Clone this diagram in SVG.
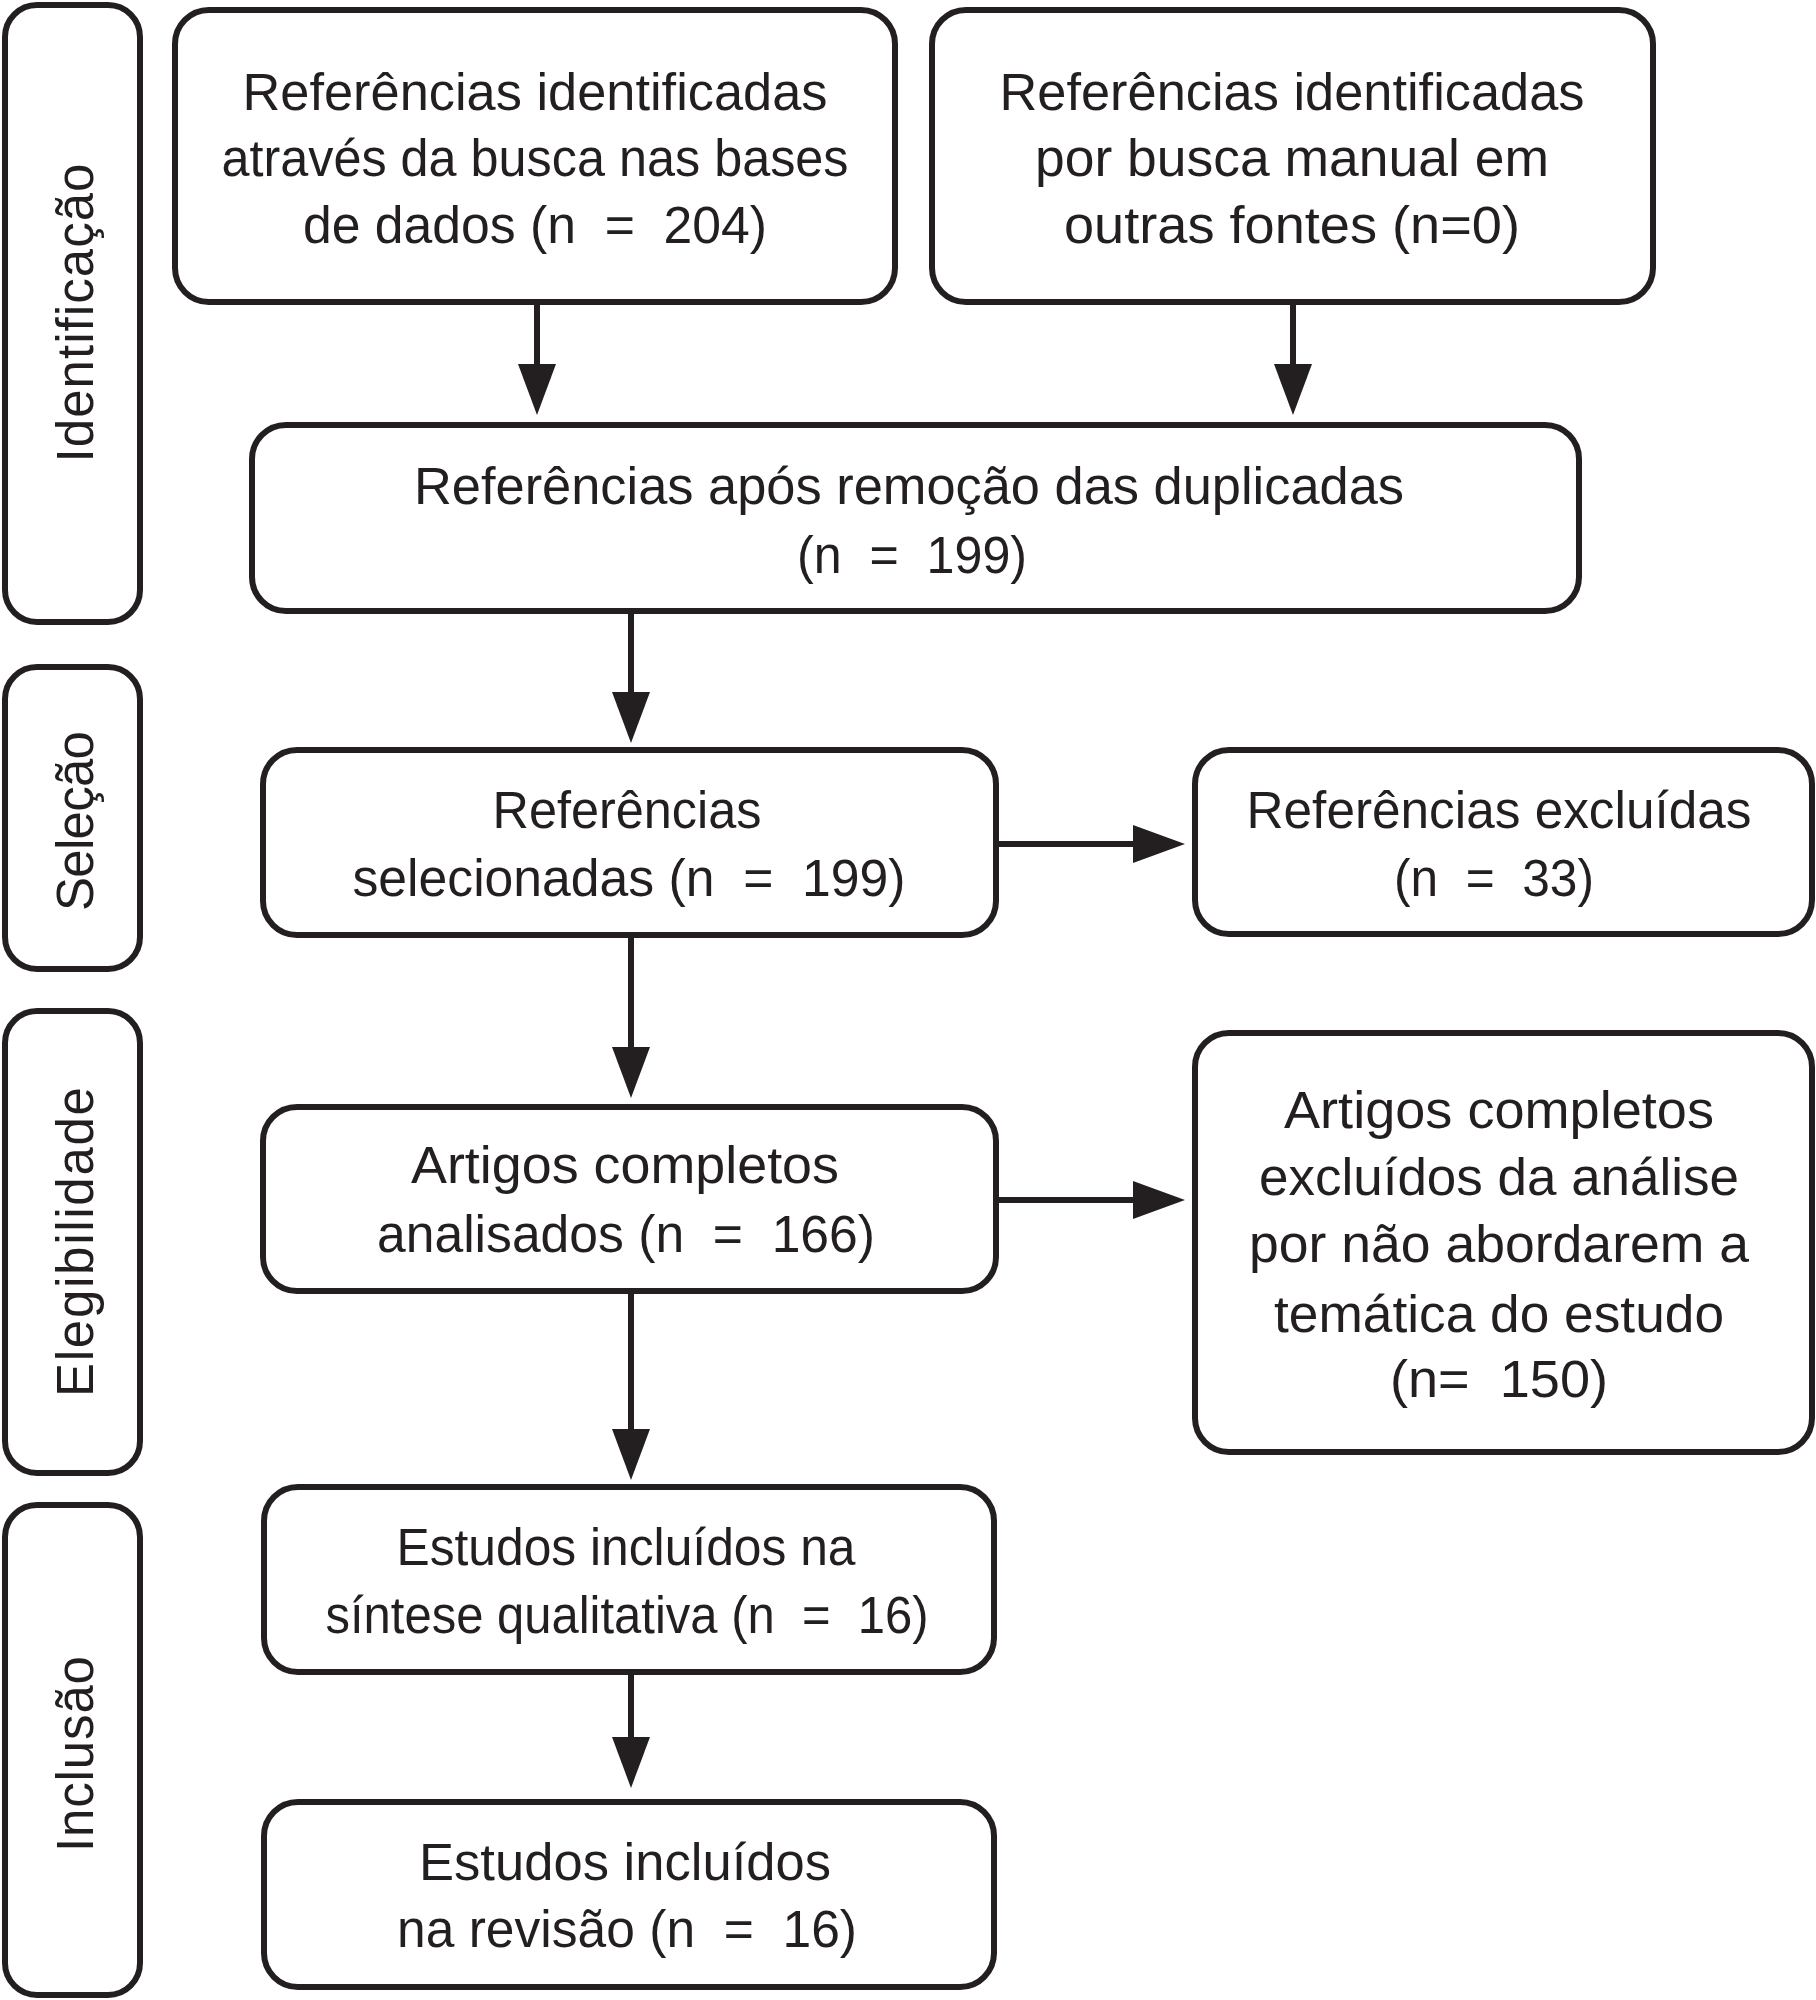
<svg xmlns="http://www.w3.org/2000/svg" width="1816" height="2000" viewBox="0 0 1816 2000" xml:space="preserve">
<style>
.box{fill:#fff;stroke:#231f20;stroke-width:6}
.t{font-family:"Liberation Sans",Arial,sans-serif;font-size:51px;fill:#231f20;text-anchor:middle;white-space:pre}
.side{font-family:"Liberation Sans",Arial,sans-serif;font-size:51px;fill:#231f20;text-anchor:middle}
.ln{stroke:#231f20;stroke-width:6;fill:none}
.ah{fill:#231f20}
</style>
<rect width="1816" height="2000" fill="#fff"/>
<g id="stage-identificacao">
<rect class="box" x="5" y="5" width="135" height="617" rx="32"/>
<text class="side" transform="translate(93,313) rotate(-90)" textLength="299" lengthAdjust="spacing">Identificação</text>
</g>
<g id="stage-selecao">
<rect class="box" x="5" y="667" width="135" height="302" rx="32"/>
<text class="side" transform="translate(93,821) rotate(-90)" textLength="180" lengthAdjust="spacing">Seleção</text>
</g>
<g id="stage-elegibilidade">
<rect class="box" x="5" y="1011" width="135" height="462" rx="32"/>
<text class="side" transform="translate(93,1242) rotate(-90)" textLength="310" lengthAdjust="spacing">Elegibilidade</text>
</g>
<g id="stage-inclusao">
<rect class="box" x="5" y="1505" width="135" height="490" rx="32"/>
<text class="side" transform="translate(93,1754) rotate(-90)" textLength="196" lengthAdjust="spacing">Inclusão</text>
</g>
<g id="connectors">
<line class="ln" x1="537" y1="302" x2="537" y2="370"/><polygon class="ah" points="518,364 556,364 537,415"/>
<line class="ln" x1="1293" y1="302" x2="1293" y2="370"/><polygon class="ah" points="1274,364 1312,364 1293,415"/>
<line class="ln" x1="631" y1="611" x2="631" y2="698"/><polygon class="ah" points="612,692 650,692 631,743"/>
<line class="ln" x1="631" y1="935" x2="631" y2="1053"/><polygon class="ah" points="612,1047 650,1047 631,1098"/>
<line class="ln" x1="631" y1="1291" x2="631" y2="1435"/><polygon class="ah" points="612,1429 650,1429 631,1480"/>
<line class="ln" x1="631" y1="1672" x2="631" y2="1743"/><polygon class="ah" points="612,1737 650,1737 631,1788"/>
<line class="ln" x1="996" y1="844" x2="1140" y2="844"/><polygon class="ah" points="1133,825 1133,863 1185,844"/>
<line class="ln" x1="996" y1="1200" x2="1140" y2="1200"/><polygon class="ah" points="1133,1181 1133,1219 1185,1200"/>
</g>
<g id="node-bases">
<rect class="box" x="175" y="10" width="720" height="292" rx="34"/>
<text class="t" x="535" y="110" textLength="585" lengthAdjust="spacingAndGlyphs">Referências identificadas</text>
<text class="t" x="535" y="176" textLength="627" lengthAdjust="spacingAndGlyphs">através da busca nas bases</text>
<text class="t" x="535" y="243" textLength="464" lengthAdjust="spacingAndGlyphs">de dados (n  =  204)</text>
</g>
<g id="node-manual">
<rect class="box" x="932" y="10" width="721" height="292" rx="34"/>
<text class="t" x="1292" y="110" textLength="585" lengthAdjust="spacingAndGlyphs">Referências identificadas</text>
<text class="t" x="1292" y="176" textLength="514" lengthAdjust="spacingAndGlyphs">por busca manual em</text>
<text class="t" x="1292" y="243" textLength="456" lengthAdjust="spacingAndGlyphs">outras fontes (n=0)</text>
</g>
<g id="node-duplicadas">
<rect class="box" x="252" y="425" width="1327" height="186" rx="34"/>
<text class="t" x="909" y="504" textLength="990" lengthAdjust="spacingAndGlyphs">Referências após remoção das duplicadas</text>
<text class="t" x="912" y="573" textLength="230" lengthAdjust="spacingAndGlyphs">(n  =  199)</text>
</g>
<g id="node-selecionadas">
<rect class="box" x="263" y="750" width="733" height="185" rx="34"/>
<text class="t" x="627" y="828" textLength="269" lengthAdjust="spacingAndGlyphs">Referências</text>
<text class="t" x="629" y="896" textLength="553" lengthAdjust="spacingAndGlyphs">selecionadas (n  =  199)</text>
</g>
<g id="node-excluidas">
<rect class="box" x="1195" y="750" width="617" height="184" rx="34"/>
<text class="t" x="1499" y="828" textLength="505" lengthAdjust="spacingAndGlyphs">Referências excluídas</text>
<text class="t" x="1494" y="896" textLength="200" lengthAdjust="spacingAndGlyphs">(n  =  33)</text>
</g>
<g id="node-analisados">
<rect class="box" x="263" y="1107" width="733" height="184" rx="34"/>
<text class="t" x="625" y="1183" textLength="428" lengthAdjust="spacingAndGlyphs">Artigos completos</text>
<text class="t" x="626" y="1252" textLength="498" lengthAdjust="spacingAndGlyphs">analisados (n  =  166)</text>
</g>
<g id="node-excluidos-analise">
<rect class="box" x="1195" y="1033" width="617" height="419" rx="34"/>
<text class="t" x="1499" y="1128" textLength="430" lengthAdjust="spacingAndGlyphs">Artigos completos</text>
<text class="t" x="1499" y="1195" textLength="480" lengthAdjust="spacingAndGlyphs">excluídos da análise</text>
<text class="t" x="1499" y="1262" textLength="500" lengthAdjust="spacingAndGlyphs">por não abordarem a</text>
<text class="t" x="1499" y="1332" textLength="450" lengthAdjust="spacingAndGlyphs">temática do estudo</text>
<text class="t" x="1499" y="1397" textLength="218" lengthAdjust="spacingAndGlyphs">(n=  150)</text>
</g>
<g id="node-sintese">
<rect class="box" x="264" y="1487" width="730" height="185" rx="34"/>
<text class="t" x="626" y="1565" textLength="459" lengthAdjust="spacingAndGlyphs">Estudos incluídos na</text>
<text class="t" x="627" y="1633" textLength="603" lengthAdjust="spacingAndGlyphs">síntese qualitativa (n  =  16)</text>
</g>
<g id="node-revisao">
<rect class="box" x="264" y="1802" width="730" height="185" rx="34"/>
<text class="t" x="625" y="1880" textLength="412" lengthAdjust="spacingAndGlyphs">Estudos incluídos</text>
<text class="t" x="627" y="1947" textLength="460" lengthAdjust="spacingAndGlyphs">na revisão (n  =  16)</text>
</g>
</svg>
